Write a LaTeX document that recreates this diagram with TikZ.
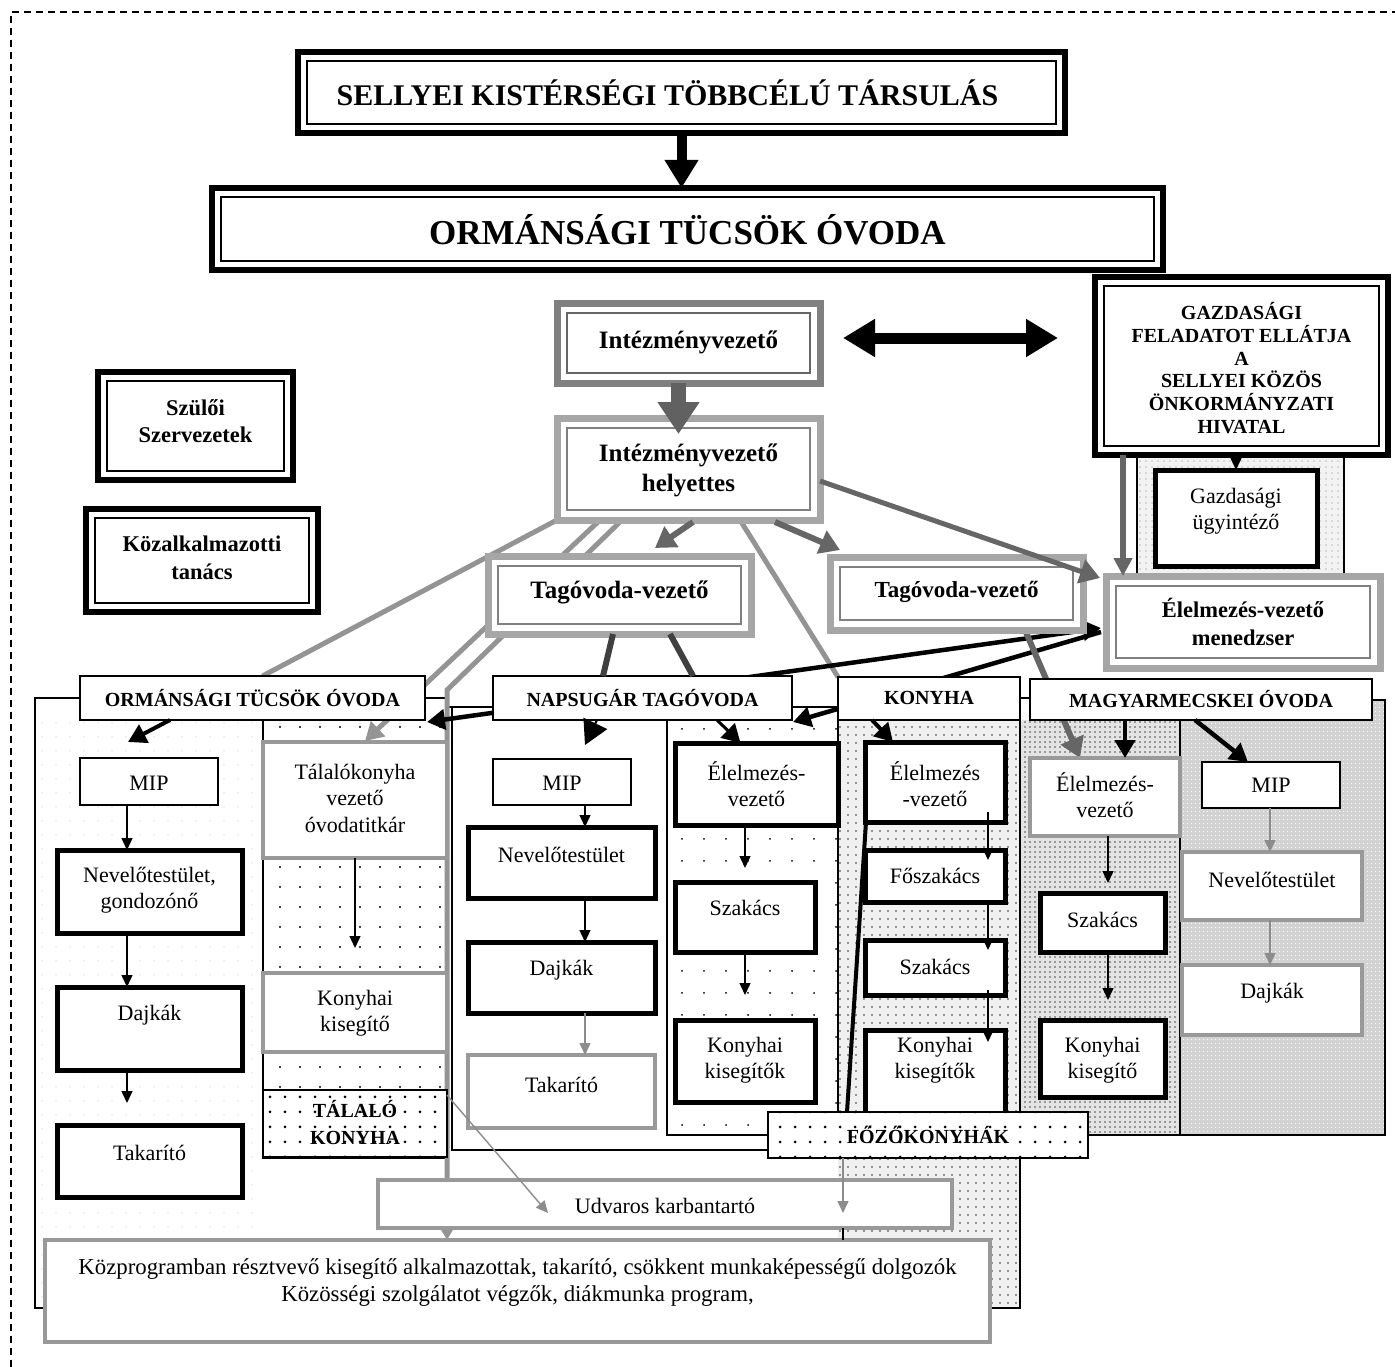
\documentclass[tikz,border=0pt]{standalone}
\usepackage{fontspec}
\setmainfont{Liberation Serif}
\usetikzlibrary{arrows.meta,patterns.meta}
\pgfdeclarelayer{bg}
\pgfdeclarelayer{mid}
\pgfsetlayers{bg,mid,main}
\newcommand\fTA{\fontsize{30}{36}\selectfont\bfseries}
\newcommand\fTB{\fontsize{35}{42}\selectfont\bfseries}
\newcommand\fMid{\fontsize{25}{30}\selectfont\bfseries}
\newcommand\fMidS{\fontsize{23}{28}\selectfont\bfseries}
\newcommand\fSide{\fontsize{22.5}{27.5}\selectfont\bfseries}
\newcommand\fGaz{\fontsize{20}{22.7}\selectfont\bfseries}
\newcommand\fLbl{\fontsize{20}{27}\selectfont\bfseries}
\newcommand\fReg{\fontsize{22}{26.5}\selectfont}
\newcommand\fKp{\fontsize{22.8}{27}\selectfont}
\newcommand\mkbox[9]{%
  \node[#1, minimum width={(#5)-(#3)}, minimum height={(#6)-(#4)}] (#2) at ({((#3)+(#5))/2},{((#4)+(#6))/2}) {};
  \node[txt, font=#8] (#2t) at ({((#3)+(#5))/2},#7) {#9};}
\newcommand\innerframe[3]{\draw[#1, line width=1.1pt] ([xshift=#3,yshift=-#3]#2.north west) rectangle ([xshift=-#3,yshift=#3]#2.south east);}
\begin{document}
\begin{tikzpicture}[x=1pt,y=-1pt,
  txt/.style={inner sep=0pt, align=center},
  base/.style={inner sep=0pt, outer sep=0pt, fill=white},
  blk/.style={base, draw=black, line width=5.5pt},
  ggr/.style={base, draw=black!35, line width=7pt},
  dgr/.style={base, draw=black!50, line width=7pt},
  thk/.style={base, draw=black, line width=5pt},
  thn/.style={base, draw=black, line width=1.8pt},
  lgr/.style={base, draw=black!40, line width=4pt},
  lbl/.style={base, draw=black, line width=1.8pt},
  dbox/.style={base, draw=black, line width=1.8pt, postaction={pattern={Dots[distance=15pt,radius=1.5pt]}, pattern color=black}},
  frm/.style={line width=1.6pt},
  ar/.style={-{Triangle[length=12pt,width=11pt]}, line width=1.4pt},
  gar/.style={ar, draw=black!45},
  bar/.style={-{Triangle[length=18pt,width=20pt]}, line width=4.5pt},
  dar/.style={-{Triangle[length=20pt,width=24pt]}, line width=6pt, draw=black!60},
  gln/.style={draw=black!42, line width=5pt},
  dln/.style={draw=black!75, line width=6pt},
  bigar/.style={-{Triangle[length=28pt,width=32pt]}, line width=10pt},
  dblar/.style={{Triangle[length=32pt,width=36pt]}-{Triangle[length=32pt,width=36pt]}, line width=11pt},
  grbig/.style={-{Triangle[length=32pt,width=40pt]}, line width=15pt, draw=black!62}
]
\useasboundingbox (0,0) rectangle (1395,1367);

% ---------- nodes ----------
\mkbox{blk}{tA}{298}{52}{1065}{133}{93}{\fTA}{\hspace*{-28pt}SELLYEI KISTÉRSÉGI TÖBBCÉLÚ TÁRSULÁS}
\innerframe{black}{tA}{9pt}
\mkbox{blk}{tB}{212}{188}{1163}{270}{230}{\fTB}{ORMÁNSÁGI TÜCSÖK ÓVODA}
\innerframe{black}{tB}{9pt}
\mkbox{dgr}{iv}{557}{303}{820}{383}{342}{\fMid}{Intézményvezető}
\innerframe{black!60}{iv}{10pt}
\mkbox{blk}{gaz}{1095}{277}{1388}{455}{368}{\fGaz}{GAZDASÁGI\\FELADATOT ELLÁTJA\\A\\SELLYEI KÖZÖS\\ÖNKORMÁNYZATI\\HIVATAL}
\innerframe{black}{gaz}{9pt}
\mkbox{blk}{szul}{98}{372}{293}{480}{421}{\fSide}{Szülői\\Szervezetek}
\innerframe{black}{szul}{9pt}
\mkbox{blk}{koz}{86}{509}{318}{612}{558}{\fSide}{Közalkalmazotti\\tanács}
\innerframe{black}{koz}{9pt}
\mkbox{ggr}{ivh}{557}{418}{820}{520}{470}{\fMid}{Intézményvezető\\helyettes}
\innerframe{black!50}{ivh}{10pt}
\mkbox{ggr}{tag1}{488}{556}{751}{634}{592}{\fMid}{Tagóvoda-vezető}
\innerframe{black!50}{tag1}{10pt}
\mkbox{ggr}{tag2}{830}{557}{1083}{630}{592}{\fMidS}{Tagóvoda-vezető}
\innerframe{black!50}{tag2}{10pt}
\mkbox{ggr}{emen}{1106}{576}{1380}{668}{622}{\fSide}{Élelmezés-vezető\\menedzser}
\innerframe{black!50}{emen}{10pt}
\mkbox{thk}{gu}{1155}{470}{1317}{566}{511}{\fReg}{Gazdasági\\ügyintéző}

\mkbox{lbl}{l1}{80}{676}{425}{720}{698}{\fLbl}{ORMÁNSÁGI TÜCSÖK ÓVODA}
\mkbox{lbl}{l2}{493}{676}{792}{720}{698}{\fLbl}{NAPSUGÁR TAGÓVODA}
\mkbox{lbl}{l3}{838}{677}{1020}{720}{698}{\fLbl}{KONYHA}
\mkbox{lbl}{l4}{1030}{679}{1372}{720}{699}{\fLbl}{MAGYARMECSKEI ÓVODA}

\mkbox{thn}{om1}{80}{758}{218}{805}{783}{\fReg}{MIP}
\mkbox{thk}{om2}{57}{850}{242}{933}{890}{\fReg}{Nevelőtestület,\\gondozónő}
\mkbox{thk}{om3}{57}{987}{242}{1070}{1015}{\fReg}{Dajkák}
\mkbox{thk}{om4}{57}{1125}{242}{1197}{1153}{\fReg}{Takarító}
\mkbox{lgr}{ot1}{263}{742}{447}{858}{798}{\fReg}{Tálalókonyha\\vezető\\óvodatitkár}
\mkbox{lgr}{ot2}{263}{973}{447}{1052}{1013}{\fReg}{Konyhai\\kisegítő}
\mkbox{dbox}{ot3}{263}{1090}{447}{1157}{1123}{\fLbl}{TÁLALÓ\\KONYHA}

\mkbox{thn}{nm1}{493}{759}{631}{805}{783}{\fReg}{MIP}
\mkbox{thk}{nm2}{468}{827}{655}{898}{855}{\fReg}{Nevelőtestület}
\mkbox{thk}{nm3}{468}{942}{655}{1013}{970}{\fReg}{Dajkák}
\mkbox{lgr}{nm4}{468}{1055}{655}{1128}{1085}{\fReg}{Takarító}
\mkbox{thk}{ne1}{675}{743}{838}{825}{784}{\fReg}{Élelmezés-\\vezető}
\mkbox{thk}{ne2}{675}{882}{815}{952}{908}{\fReg}{Szakács}
\mkbox{thk}{ne3}{675}{1020}{815}{1102}{1060}{\fReg}{Konyhai\\kisegítők}

\mkbox{thk}{k1}{865}{742}{1005}{822}{784}{\fReg}{Élelmezés\\-vezető}
\mkbox{thk}{k2}{865}{850}{1005}{902}{876}{\fReg}{Főszakács}
\mkbox{thk}{k3}{865}{940}{1005}{995}{967}{\fReg}{Szakács}
\mkbox{thk}{k4}{865}{1030}{1005}{1115}{1060}{\fReg}{Konyhai\\kisegítők}

\mkbox{lgr}{me1}{1030}{758}{1180}{836}{795}{\fReg}{Élelmezés-\\vezető}
\mkbox{thk}{me2}{1040}{893}{1165}{952}{920}{\fReg}{Szakács}
\mkbox{thk}{me3}{1040}{1020}{1165}{1097}{1060}{\fReg}{Konyhai\\kisegítő}
\mkbox{thn}{mm1}{1202}{762}{1340}{808}{785}{\fReg}{MIP}
\mkbox{lgr}{mm2}{1182}{852}{1362}{920}{880}{\fReg}{Nevelőtestület}
\mkbox{lgr}{mm3}{1182}{965}{1362}{1035}{993}{\fReg}{Dajkák}

\mkbox{dbox}{fz}{768}{1112}{1088}{1158}{1135}{\fLbl}{FŐZŐKONYHÁK}
\mkbox{lgr}{udv}{378}{1180}{952}{1228}{1206}{\fReg}{Udvaros karbantartó}
\mkbox{lgr}{kp}{45}{1240}{990}{1342}{1283}{\fKp}{Közprogramban résztvevő kisegítő alkalmazottak, takarító, csökkent munkaképességű dolgozók\\Közösségi szolgálatot végzők, diákmunka program,}

% ---------- coordinates ----------
\coordinate (dA) at (843,338);
\coordinate (dB) at (1058,338);
\coordinate (tipA) at (427,722);
\coordinate (tipB) at (793,722);
\coordinate (cBend) at (447,690);
\coordinate (cD) at (447,1095);
\coordinate (gA) at ([xshift=28pt]gaz.south west);
\coordinate (uB) at ([xshift=178pt]udv.south);
\coordinate (ivA) at ([xshift=-10pt]iv.south);

% ---------- background ----------
\begin{pgfonlayer}{bg}
 \fill[white] (0,0) rectangle (1395,1367);
 \path[pattern={Dots[distance=14pt,radius=0.5pt]}, pattern color=gray!60] (37,722) rectangle (262,1306);
 \path[pattern={Dots[distance=20pt,radius=1.1pt]}, pattern color=black] (263,720) rectangle (447,1158);
 \path[pattern={Dots[distance=22pt,radius=1pt]}, pattern color=black] (667,720) rectangle (838,1135);
 \fill[gray!12] (838,720) rectangle (1020,1308);
 \path[pattern={Dots[distance=8pt,radius=0.9pt]}, pattern color=black!80] (838,720) rectangle (1020,1308);
 \fill[gray!22] (1020,720) rectangle (1180,1135);
 \path[pattern={Dots[distance=5pt,radius=0.8pt]}, pattern color=black!70] (1020,720) rectangle (1180,1135);
 \fill[gray!35] (1180,700) rectangle (1385,1135);
 \path[pattern={Dots[distance=4pt,radius=0.7pt]}, pattern color=white] (1180,700) rectangle (1385,1135);
 \fill[gray!10] (1137,455) rectangle (1344,576);
 \path[pattern={Dots[distance=6pt,radius=0.6pt]}, pattern color=gray] (1137,455) rectangle (1344,576);
 \draw[line width=1.3pt, dash pattern=on 7pt off 5pt] (11,1367) -- (11,12) -- (1395,12);
 \draw[frm] (80,698) -- (35,698) -- (35,1308) -- (1020,1308) -- (1020,720);
 \draw[frm] (425,698) -- (447,698);
 \draw[frm] (447,707) -- (493,707);
 \draw[frm] (452,707) -- (452,1150) -- (770,1150);
 \draw[frm] (792,707) -- (838,707);
 \draw[frm] (263,720) -- (263,1158) -- (447,1158);
 \draw[frm] (667,720) -- (667,1135) -- (770,1135);
 \draw[frm] (838,720) -- (838,1112);
 \draw[frm] (1020,698) -- (1030,698);
 \draw[frm] (1372,700) -- (1385,700) -- (1385,1135) -- (1088,1135);
 \draw[frm] (1180,720) -- (1180,1135);
 \draw[frm] (1137,455) -- (1137,576) (1344,455) -- (1344,576);
\end{pgfonlayer}

% ---------- connectors behind boxes ----------
\begin{pgfonlayer}{mid}
 \draw[gln] (ivh.south west) -- ([xshift=10pt]l1.north);
 \draw[gln, -{Triangle[length=18pt,width=20pt]}] ([xshift=43pt]ivh.south west) -- ([xshift=10pt,yshift=1pt]ot1.north);
 \draw[gln, -{Triangle[length=18pt,width=20pt]}] ([xshift=65pt]ivh.south west) -- (cBend) -- (cBend |- kp.north);
 \draw[gln] ([xshift=183pt]ivh.south west) -- (l3.north west);
 \draw[bar, {Triangle[length=18pt,width=20pt]}-{Triangle[length=18pt,width=20pt]}] ([xshift=-5pt,yshift=-6pt]emen.west) -- (tipA);
 \draw[bar] ([xshift=-5pt,yshift=-10pt]emen.west) -- (tipB);
 \draw[dar] ([xshift=-58pt]tag2.south east) -- ([xshift=-25pt]me1.north);
\end{pgfonlayer}

% ---------- connectors in front ----------
\draw[bigar] (tA.south) -- (tA.south |- tB.north);
\draw[dblar] (dA) -- (dB);
\draw[grbig] (ivA) -- ([yshift=-16pt]ivA |- ivh.north);
\draw[dar] ([xshift=136pt,yshift=-2pt]ivh.south west) -- ([xshift=167pt,yshift=8pt]tag1.north west);
\draw[dar] ([xshift=218pt,yshift=-2pt]ivh.south west) -- ([xshift=10pt,yshift=7pt]tag2.north west);
\draw[dar, line width=5pt] ([yshift=-12pt]ivh.east) -- ([xshift=-6pt,yshift=-2pt]emen.north west);
\draw[dln] ([xshift=125pt]tag1.south west) -- ([xshift=110pt]l2.north west);
\draw[dln] ([xshift=182pt]tag1.south west) -- ([xshift=200pt]l2.north west);
\draw[dar, -{Triangle[length=18pt,width=18pt]}] (gA) -- (gA |- emen.north);
\draw[ar] (gu.north |- gaz.south) -- (gu.north);

\draw[bar, line width=4pt] ([xshift=90pt]l1.south west) -- ([xshift=-21pt,yshift=16pt]om1.north);
\draw[bar, line width=2pt, -{Triangle[length=24pt,width=26pt]}] ([xshift=104pt]l2.south west) -- ([xshift=23pt,yshift=14pt]nm1.north);
\draw[bar, line width=3pt] ([xshift=224pt]l2.south west) -- ([xshift=-16pt]ne1.north);
\draw[bar, line width=4pt] ([xshift=34pt]l3.south west) -- ([xshift=-42pt]k1.north);
\draw[bar] ([xshift=95pt]l4.south west) -- ([xshift=20pt]me1.north);
\draw[bar] ([xshift=165pt]l4.south west) -- ([xshift=-23pt]mm1.north);

\draw[ar] (om1.south -| 127,0) -- (om2.north -| 127,0);
\draw[ar] (om2.south -| 127,0) -- (om3.north -| 127,0);
\draw[ar] (om3.south -| 127,0) -- ++(0,33);
\draw[ar] (ot1.south) -- ++(0,90);
\draw[ar] (nm1.south -| 585,0) -- (nm2.north -| 585,0);
\draw[ar] (nm2.south -| 585,0) -- (nm3.north -| 585,0);
\draw[gar] (nm3.south -| 585,0) -- (nm4.north -| 585,0);
\draw[ar] (ne1.south -| 745,0) -- ++(0,43);
\draw[ar] (ne2.south -| 745,0) -- ++(0,43);
\draw[ar] ([xshift=-17pt,yshift=10pt]k1.south east) -- ([xshift=-17pt,yshift=-10pt]k2.north east);
\draw[ar] ([xshift=-17pt,yshift=2pt]k2.south east) -- ([xshift=-17pt,yshift=-10pt]k3.north east);
\draw[ar] ([xshift=-17pt,yshift=5pt]k3.south east) -- ([xshift=-17pt,yshift=-12pt]k4.north east);
\draw[ar] (me1.south -| 1108,0) -- ++(0,47);
\draw[ar] (me2.south -| 1108,0) -- ++(0,48);
\draw[gar] (mm1.south -| 1270,0) -- (mm2.north -| 1270,0);
\draw[gar] (mm2.south -| 1270,0) -- (mm3.north -| 1270,0);
\draw[line width=4pt] ([xshift=1pt]k1.south west) -- ([xshift=79pt]fz.north west);
\draw[gar] (cD) -- ([xshift=170pt,yshift=-33pt]udv.north west);
\draw[gar] ([xshift=-85pt]fz.south) -- ([xshift=-85pt,yshift=-55pt]fz.south);
\draw[line width=1.4pt] (uB) -- (uB |- kp.north);
\end{tikzpicture}
\end{document}
